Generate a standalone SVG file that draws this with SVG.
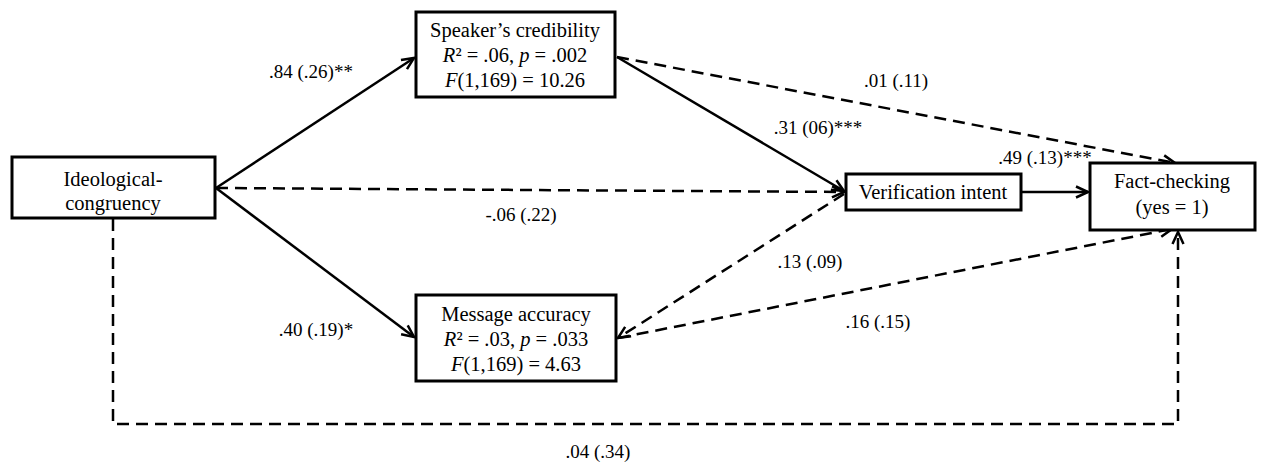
<svg xmlns="http://www.w3.org/2000/svg" width="1267" height="462" viewBox="0 0 1267 462">
<style>
.box{fill:#fff;stroke:#000;stroke-width:3}
.t{font-family:"Liberation Serif","Times New Roman",serif;font-size:20.5px;fill:#000;text-anchor:middle}
.l{font-family:"Liberation Serif","Times New Roman",serif;font-size:19px;fill:#000;text-anchor:middle}
.i{font-style:italic}
.s{fill:none;stroke:#000;stroke-width:2.5}
.d{fill:none;stroke:#000;stroke-width:2.5;stroke-dasharray:12 7}
</style>
<defs>
<marker id="ah" viewBox="0 0 16 16" refX="14" refY="8" markerWidth="16" markerHeight="16" markerUnits="userSpaceOnUse" orient="auto">
<path d="M2,2.5 L14,8 L2,13.5" fill="none" stroke="#000" stroke-width="2.5"/>
</marker>
</defs>
<g id="connectors">
<line class="s" x1="216" y1="188" x2="414" y2="58" marker-end="url(#ah)"/>
<line class="s" x1="216" y1="188" x2="414" y2="337" marker-end="url(#ah)"/>
<line class="d" x1="216" y1="188" x2="844" y2="192" marker-end="url(#ah)"/>
<line class="s" x1="617" y1="57" x2="844" y2="191" marker-end="url(#ah)"/>
<line class="d" x1="617" y1="57" x2="1175" y2="163" marker-end="url(#ah)"/>
<line class="s" x1="1022" y1="192" x2="1088" y2="192" marker-end="url(#ah)"/>
<line class="d" x1="844" y1="194" x2="618" y2="338" marker-end="url(#ah)"/>
<line class="d" x1="618" y1="338" x2="1172" y2="229" marker-end="url(#ah)"/>
<polyline class="d" points="113,219 113,424 1178,424 1178,232" marker-end="url(#ah)"/>
</g>
<g id="ideological">
<rect class="box" x="12" y="157" width="203" height="61"/>
<text class="t" x="113" y="186">Ideological-</text>
<text class="t" x="113" y="210">congruency</text>
</g>
<g id="speaker">
<rect class="box" x="416" y="12" width="199" height="85"/>
<text class="t" x="515" y="37">Speaker’s credibility</text>
<text class="t" x="515" y="62"><tspan class="i">R</tspan>² = .06, <tspan class="i">p</tspan> = .002</text>
<text class="t" x="515" y="87"><tspan class="i">F</tspan>(1,169) = 10.26</text>
</g>
<g id="message">
<rect class="box" x="416" y="295" width="200" height="86"/>
<text class="t" x="516" y="321">Message accuracy</text>
<text class="t" x="516" y="346"><tspan class="i">R</tspan>² = .03, <tspan class="i">p</tspan> = .033</text>
<text class="t" x="516" y="371"><tspan class="i">F</tspan>(1,169) = 4.63</text>
</g>
<g id="verification">
<rect class="box" x="846" y="174" width="175" height="36"/>
<text class="t" x="933" y="199">Verification intent</text>
</g>
<g id="factchecking">
<rect class="box" x="1090" y="163" width="165" height="67"/>
<text class="t" x="1172" y="188">Fact-checking</text>
<text class="t" x="1172" y="214">(yes = 1)</text>
</g>
<g id="labels">
<text class="l" x="311" y="78">.84 (.26)**</text>
<text class="l" x="316" y="336">.40 (.19)*</text>
<text class="l" x="521" y="221">-.06 (.22)</text>
<text class="l" x="818" y="134">.31 (06)***</text>
<text class="l" x="896" y="87">.01 (.11)</text>
<text class="l" x="1045" y="164">.49 (.13)***</text>
<text class="l" x="810" y="268">.13 (.09)</text>
<text class="l" x="878" y="328">.16 (.15)</text>
<text class="l" x="598" y="458">.04 (.34)</text>
</g>
</svg>
